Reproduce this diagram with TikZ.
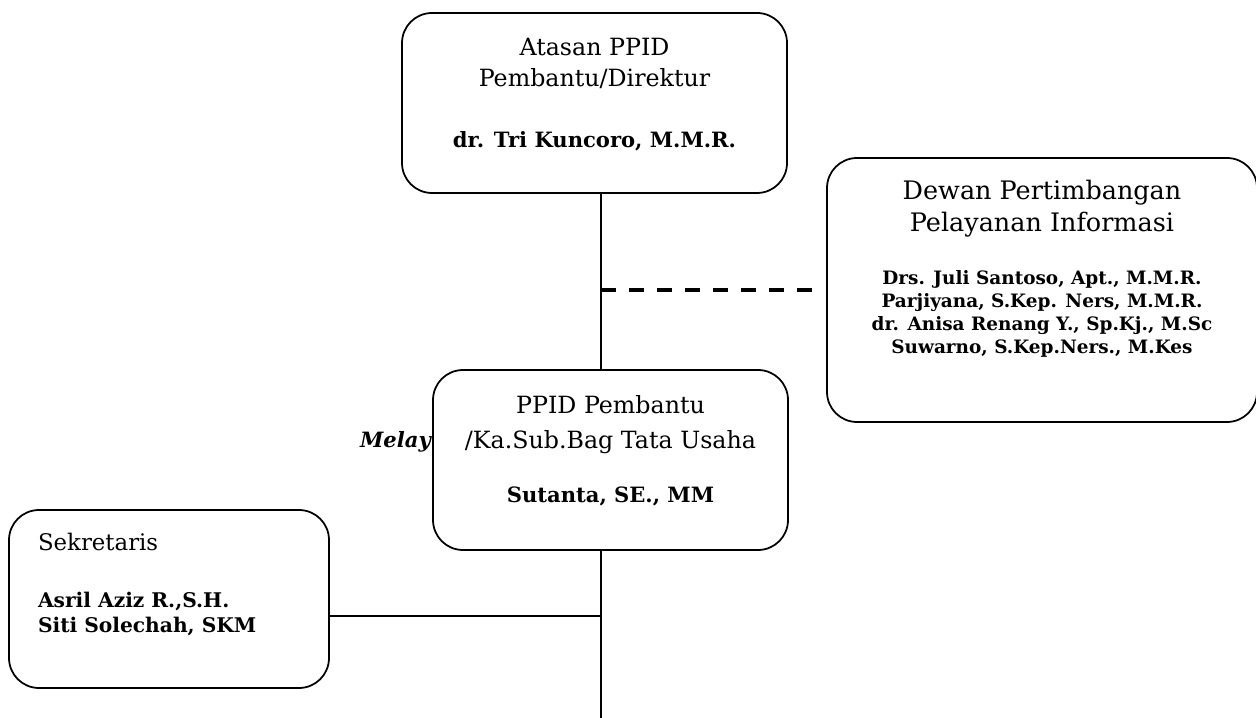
\documentclass[tikz,border=0pt]{standalone}
\usepackage{fontspec}
\setmainfont{DejaVu Serif}
\usetikzlibrary{positioning,calc}

\begin{document}
\begin{tikzpicture}[
    box/.style={draw, rounded corners=0.6cm, line width=1pt, fill=white, inner sep=0pt, font=\fontsize{13.5}{20}\selectfont},
    con/.style={line width=1pt},
    dsh/.style={line width=2.3pt, dash pattern=on 0.3cm off 0.26cm},
    lbl/.style={font=\fontsize{12}{14}\selectfont\bfseries\itshape}
]
\useasboundingbox (0,0) rectangle (25.12,-14.36);

\coordinate (spine) at (12.02,0);
\coordinate (bot) at (12.02,-14.36);

% text partly hidden behind the PPID box
\node[lbl, anchor=base east] (melay) at (8.74,-8.96) {Melay};

\node[box, font=\fontsize{13.5}{18}\selectfont] (atasan) at (11.89,-2.06) {\parbox[c][3.6cm][t]{7.7cm}{\centering
    \vspace*{0.5cm}Atasan PPID\\Pembantu/Direktur\par\vspace{0.72cm}
    {\fontsize{12}{14}\selectfont\bfseries dr. Tri Kuncoro, M.M.R.\par}}};
\node[box, font=\fontsize{14.5}{18.5}\selectfont] (dewan) at (20.84,-5.8) {\parbox[c][5.28cm][t]{8.6cm}{\centering
    \vspace*{0.44cm}Dewan Pertimbangan\\Pelayanan Informasi\par\vspace{0.6cm}
    {\fontsize{10.5}{13}\selectfont\bfseries Drs. Juli Santoso, Apt., M.M.R.\\
    Parjiyana, S.Kep. Ners, M.M.R.\\dr. Anisa Renang Y., Sp.Kj., M.Sc\\
    Suwarno, S.Kep.Ners., M.Kes\par}}};
\node[box] (ppid) at (12.21,-9.2) {\parbox[c][3.6cm][t]{7.1cm}{\centering
    \vspace*{0.5cm}PPID Pembantu\\/Ka.Sub.Bag Tata Usaha\par\vspace{0.6cm}
    {\fontsize{12}{14}\selectfont\bfseries Sutanta, SE., MM\par}}};
\node[box, font=\fontsize{13}{20}\selectfont] (sekr) at (3.38,-11.98) {\parbox[c][3.56cm][t]{6.4cm}{\raggedright\leftskip=0.58cm
    \vspace*{0.46cm}Sekretaris\par\vspace{0.64cm}
    {\fontsize{11.5}{14.2}\selectfont\bfseries Asril Aziz R.,S.H.\\Siti Solechah, SKM\par}}};

\draw[con] (atasan.south -| spine) -- (ppid.north -| spine);
\draw[con] (ppid.south -| spine) -- (bot);
\draw[dsh] (spine |- dewan.west) -- ([xshift=-0.28cm]dewan.west);
\draw[con] ([yshift=-0.34cm]sekr.east) -- ([yshift=-0.34cm]sekr.east -| spine);
\end{tikzpicture}
\end{document}
